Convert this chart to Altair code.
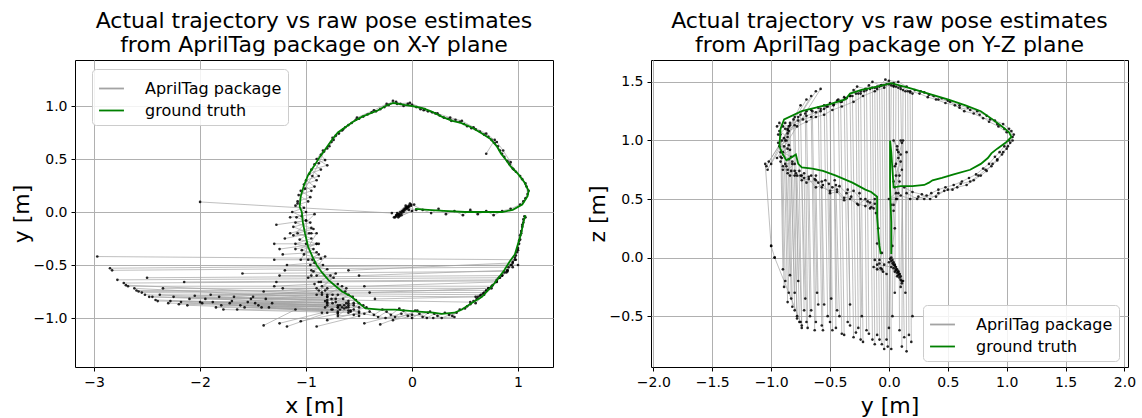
import altair as alt
import pandas as pd

FONT = "DejaVu Sans"
GRAY = "#a3a3a3"
GREEN = "#008000"

# ---------------- X-Y plane ----------------
xy_truth = [(0.03,0.03),(0.15,0.02),(0.3,0.01),(0.5,0.0),(0.7,0.0),(0.85,0.0),(0.95,0.02),(1.04,0.07),(1.09,0.15),
            (1.1,0.2),(1.06,0.28),(1.0,0.36),(0.93,0.43),(0.88,0.5),(0.84,0.55),(0.8,0.62),(0.74,0.69),(0.66,0.74),
            (0.56,0.8),(0.46,0.84),(0.38,0.86),(0.28,0.9),(0.18,0.95),(0.1,0.98),(0.0,1.0),(-0.07,1.01),(-0.18,1.03),
            (-0.25,1.0),(-0.32,0.96),(-0.47,0.9),(-0.56,0.85),(-0.63,0.8),(-0.7,0.75),(-0.74,0.7),(-0.77,0.66),
            (-0.82,0.59),(-0.87,0.52),(-0.92,0.44),(-0.98,0.35),(-1.02,0.25),(-1.05,0.15),(-1.06,0.05),(-1.04,0.0),
            (-1.03,-0.1),(-1.01,-0.2),(-0.98,-0.33),(-0.94,-0.42),(-0.9,-0.5),(-0.85,-0.57),(-0.79,-0.64),(-0.72,-0.7),
            (-0.66,-0.75),(-0.57,-0.8),(-0.5,-0.86),(-0.44,-0.91),(-0.3,-0.92),(-0.16,-0.92),(0.06,-0.94),(0.2,-0.95),
            (0.28,-0.96),(0.4,-0.95),(0.47,-0.92),(0.56,-0.86),(0.66,-0.8),(0.78,-0.67),(0.87,-0.55),(0.92,-0.47),
            (0.97,-0.4),(1.0,-0.3),(1.03,-0.2),(1.05,-0.1),(1.07,-0.03)]

xy_est = [(-0.15,-0.04),(-0.05,0.03),(-0.12,-0.02),(0.02,0.07),(-0.08,0.0),(-0.03,0.05),(-0.1,-0.03),(0.04,0.02),
          (-0.06,0.04),(0.0,0.01),(-0.13,-0.05),(-0.02,0.08),
          (0.1,0.02),(0.18,-0.01),(0.25,0.03),(0.32,-0.02),(0.4,0.01),(0.48,-0.03),(0.55,0.02),(0.62,-0.02),
          (0.7,0.01),(0.77,-0.03),(0.85,0.01),(0.93,0.03),
          (1.02,0.07),(1.07,0.13),(1.1,0.2),(1.07,0.27),(1.02,0.34),(0.95,0.41),(0.9,0.48),(0.85,0.55),(0.81,0.62),
          (0.75,0.68),(0.68,0.73),(0.6,0.78),(0.52,0.81),(0.45,0.85),(0.37,0.86),(0.3,0.89),(0.22,0.93),(0.15,0.95),
          (0.08,0.97),(0.0,1.01),(-0.08,1.0),(-0.15,1.04),(-0.22,1.01),(-0.3,0.97),(-0.38,0.94),(-0.46,0.9),
          (-0.53,0.87),(-0.6,0.82),(-0.66,0.77),(-0.72,0.72),(-0.76,0.66),(-0.8,0.6),
          (-0.86,0.54),(-0.82,0.49),(-0.92,0.45),(-0.86,0.4),(-0.97,0.36),(-0.9,0.3),(-1.02,0.26),(-0.95,0.2),
          (-1.07,0.16),(-0.98,0.1),(-1.1,0.06),(-1.0,0.0),(-1.09,-0.05),(-0.96,-0.1),(-1.12,-0.14),(-0.97,-0.2),
          (-1.06,-0.26),(-0.9,-0.3),(-1.04,-0.36),(-0.88,-0.4),(-0.98,-0.45),(-0.84,-0.5),(-0.93,-0.56),(-0.77,-0.6),
          (-0.88,-0.66),(-0.7,-0.68),(-0.82,-0.74),(-0.63,-0.75),(-0.76,-0.82),(-0.56,-0.8),(-0.68,-0.88),
          (-0.5,-0.86),(-0.58,-0.94),(-0.43,-0.9),(-0.36,-0.97),(-0.28,-0.92),(-0.2,-0.97),(-0.12,-0.91),
          (-0.04,-0.98),(0.03,-0.93),(0.1,-0.99),(0.17,-0.94),(0.24,-0.98),(0.31,-0.95),(0.38,-0.98),(0.45,-0.92),
          (0.52,-0.89),(0.58,-0.84),(0.64,-0.79),(0.7,-0.74),(0.76,-0.69),(0.82,-0.62),(0.87,-0.57),(0.91,-0.52),
          (0.95,-0.47),(0.98,-0.41),(1.0,-0.34),(1.02,-0.26),(1.03,-0.18),(1.05,-0.1),(1.06,-0.04)]

# further estimate runs (each inner list is one continuous run)
xy_runs = [
    [(-0.14,-0.03),(-0.1,-0.01),(-0.07,0.02),(-0.04,0.04),(-0.01,0.06),(-0.12,-0.04),(-0.09,0.01),
     (-0.05,0.05),(-0.16,-0.05),(-0.03,0.02)],
    [(-0.17,-0.05),(-0.15,-0.03),(-0.13,-0.02),(-0.11,0.0),(-0.09,0.01),(-0.07,0.03),(-0.05,0.04),
     (-0.03,0.06),(-0.01,0.07),(-0.12,-0.03),(-0.08,0.02),(-0.04,0.05),(-0.14,-0.01),(-0.06,0.06)],
    [(-0.84,0.58),(-0.9,0.5),(-0.8,0.44),(-0.95,0.4),(-0.88,0.34),(-1.0,0.3),(-0.92,0.24),(-1.05,0.2),
     (-0.96,0.14),(-1.08,0.1),(-1.02,0.04),(-1.13,0.0),(-1.04,-0.04),(-1.0,-0.08),(-1.1,-0.1),(-0.93,-0.16),
     (-1.08,-0.2),(-0.95,-0.25),(-1.1,-0.3),(-0.93,-0.35),(-1.02,-0.4),(-0.86,-0.44),(-0.96,-0.5),
     (-0.8,-0.54),(-0.9,-0.6),(-0.74,-0.62),(-0.85,-0.7),(-0.66,-0.7),(-0.8,-0.78),(-0.6,-0.78),(-0.72,-0.85),
     (-0.53,-0.83),(-0.64,-0.91),(-0.46,-0.88),(-0.55,-0.97),(-0.4,-0.94),(-0.32,-0.99),(-0.24,-0.94),
     (-0.16,-0.99),(-0.08,-0.93),(0.0,-1.0),(0.07,-0.96),(0.14,-1.0),(0.21,-0.96),(0.28,-1.0),(0.35,-0.97),
     (0.42,-0.95),(0.5,-0.91),(0.55,-0.87),(0.61,-0.82),(0.67,-0.77),(0.73,-0.72),(0.79,-0.66),(0.85,-0.6),
     (0.9,-0.55),(0.94,-0.5),(0.97,-0.45),(0.99,-0.38),(1.01,-0.3),(1.02,-0.22),(1.04,-0.14),(1.05,-0.07)],
    [(1.05,0.1),(1.09,0.17),(1.08,0.24),(1.04,0.31),(0.98,0.38),(0.92,0.45),(0.87,0.52),(0.83,0.58),
     (0.78,0.65),(0.72,0.71),(0.64,0.76),(0.56,0.79),(0.49,0.83),(0.41,0.87),(0.34,0.88),(0.26,0.91),
     (0.19,0.94),(0.11,0.96),(0.04,0.99),(-0.04,1.02),(-0.11,1.02),(-0.18,1.05),(-0.26,0.99),(-0.34,0.95),
     (-0.42,0.92),(-0.5,0.88),(-0.57,0.84),(-0.63,0.8),(-0.69,0.74),(-0.74,0.68),(-0.78,0.62)],
    [(-1.15,-0.05),(-0.92,-0.02),(-1.12,-0.22),(-0.9,-0.2),(-1.05,-0.45),(-0.82,-0.42),(-0.98,-0.62),
     (-0.72,-0.58),(-0.9,-0.78),(-0.62,-0.72),(-0.82,-0.9),(-0.55,-0.86),(-0.7,-0.98),(-0.45,-0.96),
     (-0.25,-1.0),(0.0,-0.97),(0.2,-1.0),(0.4,-0.99)],
    [(0.96,0.4),(0.93,0.47),(0.86,0.58),(0.8,0.66),(0.7,0.74),(0.58,0.8),(0.47,0.86),(0.36,0.89),(0.24,0.93),
     (0.12,0.97),(-0.02,1.03),(-0.14,1.02),(-0.24,1.02),(-0.36,0.96),(-0.52,0.89),(-0.65,0.78),(-0.75,0.7),
     (-0.83,0.57),(-0.88,0.46),(-0.94,0.34),(-1.01,0.22),(-1.08,0.08)],
    [(0.6,-0.86),(0.68,-0.78),(0.75,-0.72),(0.83,-0.62),(0.89,-0.57),(0.93,-0.5),(0.97,-0.43),(1.0,-0.36),
     (1.01,-0.27),(1.03,-0.2),(1.04,-0.12),(1.07,-0.05)],
]

# outlier jumps (x1, y1, x2, y2)
xy_jumps = [(-2.97,-0.42,0.98,-0.45),(-2.85,-0.53,1.0,-0.5),(-2.83,-0.55,0.95,-0.52),(-2.5,-0.62,0.85,-0.6),
            (-2.72,-0.67,0.8,-0.65),(-2.15,-0.66,0.8,-0.64),(-2.68,-0.7,0.75,-0.7),(-2.35,-0.72,0.72,-0.72),
            (-2.6,-0.74,0.7,-0.74),(-2.55,-0.76,0.65,-0.78),(-2.45,-0.8,0.55,-0.85),(-1.6,-0.58,0.9,-0.56),
            (-2.4,-0.84,-0.6,-0.86),(-2.3,-0.86,-0.7,-0.88),(-2.2,-0.87,-0.5,-0.9),(-2.1,-0.82,-0.8,-0.8),
            (-2.0,-0.85,-0.6,-0.88),(-1.9,-0.78,-0.75,-0.78),(-1.85,-0.9,-0.55,-0.92),(-1.8,-0.88,-0.7,-0.9),
            (-1.7,-0.84,-0.8,-0.85),(-1.65,-0.92,-0.6,-0.93),(-1.55,-0.85,-0.8,-0.86),(-1.5,-0.8,-0.85,-0.78),
            (-1.45,-0.88,-0.7,-0.9),(-1.4,-0.75,-0.9,-0.72),(-1.35,-0.9,-0.75,-0.92),(-1.3,-0.7,-0.92,-0.68),
            (-1.25,-0.6,-0.95,-0.6),(-1.2,-0.55,-0.95,-0.55),(-1.25,-0.35,-0.9,-0.3),(-1.2,-0.25,-0.95,-0.2),
            (-1.28,-0.12,-1.0,-0.08),(-1.3,-0.3,-1.0,-0.3),(-2.0,0.095,-0.19,-0.01),(-1.4,-1.07,-1.1,-0.92),
            (-1.25,-1.05,-0.85,-0.95),(-1.18,-1.08,-0.8,-0.95),(-0.3,-1.06,0.05,-0.93),(-0.8,-1.02,-0.5,-0.95),
            (0.7,0.55,0.78,0.68),
            (-2.78,-0.64,0.82,-0.62),(-2.7,-0.69,-0.7,-0.78),(-2.62,-0.72,-0.65,-0.82),(-2.58,-0.75,0.68,-0.76),
            (-2.52,-0.78,-0.6,-0.84),(-2.48,-0.8,-0.75,-0.86),(-2.42,-0.83,-0.55,-0.88),(-2.38,-0.78,0.6,-0.8),
            (-2.28,-0.84,-0.62,-0.9),(-2.25,-0.8,-0.8,-0.83),(-2.18,-0.85,-0.68,-0.92),(-2.12,-0.88,-0.58,-0.93),
            (-2.05,-0.79,-0.85,-0.76),(-1.98,-0.86,-0.7,-0.94),(-1.95,-0.82,-0.62,-0.86),(-1.88,-0.85,-0.8,-0.88),
            (-1.82,-0.8,-0.72,-0.82),(-1.78,-0.92,-0.6,-0.95),(-1.72,-0.86,-0.66,-0.9),(-1.68,-0.8,-0.88,-0.74),
            (-1.62,-0.88,-0.76,-0.92),(-1.58,-0.9,-0.5,-0.94),(-1.52,-0.82,-0.82,-0.84),(-1.48,-0.86,-0.64,-0.88),
            (-1.42,-0.9,-0.7,-0.95),(-1.38,-0.82,-0.8,-0.8),(-1.32,-0.86,-0.6,-0.9),(-1.28,-0.66,-0.86,-0.66),
            (-1.22,-0.72,-0.8,-0.72),(-1.3,-0.45,-0.94,-0.45),(-1.18,-0.5,-0.92,-0.48),(-1.22,-0.4,-0.9,-0.38),
            (-1.15,-0.2,-0.95,-0.15),(-1.1,-0.35,-0.88,-0.3),(-0.6,-0.55,0.95,-0.48),(-0.5,-0.6,0.9,-0.55),
            (-0.45,-0.7,0.8,-0.66),(-0.4,-0.76,0.72,-0.72),(-0.35,-0.82,0.62,-0.8),(-1.05,-1.03,-0.7,-0.96),
            (-0.9,-1.08,-0.5,-0.98),(-0.45,-1.05,-0.1,-0.96),(-0.18,-1.02,0.15,-0.95)]

# ---------------- Y-Z plane ----------------
yz_truth = [(0.02,0.03),(0.02,0.3),(0.01,0.6),(0.01,0.85),(0.01,1.0),(0.02,0.9),(0.03,0.75),(0.04,0.6),(0.1,0.61),
            (0.2,0.61),(0.3,0.62),(0.34,0.64),(0.37,0.66),(0.45,0.68),(0.55,0.71),(0.69,0.75),(0.78,0.8),(0.84,0.85),
            (0.87,0.89),(0.92,0.93),(0.99,0.98),(1.04,1.03),(1.02,1.07),(0.96,1.12),(0.88,1.18),(0.78,1.25),
            (0.65,1.3),(0.5,1.35),(0.37,1.39),(0.2,1.44),(0.02,1.49),(-0.1,1.46),(-0.24,1.43),(-0.33,1.4),
            (-0.37,1.35),(-0.5,1.31),(-0.62,1.28),(-0.74,1.25),(-0.89,1.18),(-0.92,1.1),(-0.93,0.95),(-0.9,0.88),
            (-0.87,0.83),(-0.82,0.86),(-0.79,0.88),(-0.77,0.8),(-0.74,0.77),(-0.65,0.76),(-0.56,0.74),(-0.45,0.7),
            (-0.31,0.64),(-0.2,0.58),(-0.15,0.56),(-0.1,0.52),(-0.1,0.35),(-0.09,0.21),(-0.08,0.1),(-0.07,0.03)]

yz_est = [(0.03,-0.02),(0.06,-0.08),(0.04,-0.04),(0.08,-0.12),(0.05,-0.06),(0.1,-0.16),(0.07,-0.1),(0.12,-0.2),
          (0.02,0.0),(0.03,0.1),(0.05,0.25),(0.04,0.4),(0.07,0.5),(0.05,0.6),(0.09,0.7),(0.06,0.8),(0.1,0.88),
          (0.07,0.95),(0.04,1.0),(0.08,0.9),(0.05,0.78),(0.09,0.65),(0.06,0.55),(0.0,0.5),
          (0.1,0.53),(0.18,0.5),(0.25,0.52),(0.3,0.5),(0.36,0.55),(0.42,0.58),(0.48,0.6),(0.55,0.62),(0.62,0.65),
          (0.68,0.68),(0.74,0.71),(0.8,0.76),(0.85,0.8),(0.9,0.86),(0.94,0.9),(0.98,0.95),(1.02,1.0),(1.05,1.03),
          (1.02,1.1),(0.97,1.14),(0.9,1.17),(0.83,1.21),(0.75,1.25),(0.67,1.28),(0.6,1.3),(0.52,1.33),(0.45,1.36),
          (0.38,1.38),(0.3,1.41),(0.22,1.43),(0.15,1.46),(0.08,1.5),(0.0,1.51),(-0.07,1.47),(-0.14,1.5),
          (-0.2,1.44),(-0.27,1.46),(-0.33,1.38),(-0.4,1.33),(-0.47,1.3),(-0.55,1.27),(-0.62,1.24),(-0.7,1.21),
          (-0.77,1.17),(-0.84,1.13),
          (-0.9,1.12),(-0.86,1.06),(-0.91,1.0),(-0.85,0.96),(-0.9,0.9),(-0.83,0.86),(-0.88,0.8),(-0.8,0.8),
          (-0.86,0.75),(-0.76,0.74),(-0.8,0.7),
          (-0.72,0.68),(-0.66,0.7),(-0.6,0.64),(-0.54,0.66),(-0.48,0.6),(-0.42,0.61),(-0.36,0.55),(-0.3,0.57),
          (-0.24,0.5),(-0.18,0.48),(-0.15,0.43),(-0.12,0.5),
          (-0.11,0.38),(-0.09,0.25),(-0.1,0.12),(-0.06,0.04),(-0.08,-0.02),(-0.04,-0.06),(-0.06,-0.1)]

yz_runs = [
    [(-0.93,1.15),(-0.88,1.1),(-0.94,1.05),(-0.87,1.0),(-0.93,0.95),(-0.84,0.92),(-0.92,0.86),(-0.82,0.82),
     (-0.9,0.78),(-0.84,0.7),(-0.75,0.7),(-0.7,0.64),(-0.62,0.66),(-0.57,0.6),(-0.5,0.57),(-0.44,0.58),
     (-0.38,0.51),(-0.32,0.52),(-0.27,0.46),(-0.2,0.44),(-0.16,0.47),(-0.13,0.42)],
    [(0.02,0.45),(0.06,0.5),(0.04,0.65),(0.11,0.75),(0.08,0.85),(0.11,0.98)],
    [(0.13,0.6),(0.2,0.56),(0.28,0.54),(0.35,0.5),(0.42,0.55),(0.5,0.58),(0.58,0.6),(0.66,0.62),(0.72,0.66),
     (0.78,0.7),(0.83,0.74),(0.88,0.8),(0.92,0.84),(0.96,0.88),(1.0,0.93),(1.03,0.98),(1.06,1.05),(1.04,1.08),
     (0.98,1.1),(0.92,1.14),(0.86,1.18),(0.8,1.19),(0.72,1.23),(0.64,1.25),(0.56,1.3),(0.48,1.32),(0.4,1.35),
     (0.33,1.37),(0.26,1.4),(0.18,1.42),(0.1,1.46),(0.04,1.46),(-0.03,1.52),(-0.1,1.44),(-0.17,1.47),
     (-0.24,1.4),(-0.3,1.43),(-0.37,1.36),(-0.44,1.34),(-0.52,1.29),(-0.58,1.25),(-0.66,1.2),(-0.73,1.18),
     (-0.8,1.13),(-0.86,1.09),(-0.89,1.02)],
    [(0.0,-0.04),(0.09,-0.14),(0.05,-0.12),(0.11,-0.22),(0.02,-0.08),(-0.1,-0.06),(-0.02,-0.14)],
    [(0.01,-0.01),(0.03,-0.05),(0.05,-0.07),(0.04,-0.09),(0.06,-0.11),(0.07,-0.13),(0.08,-0.15),(0.09,-0.17),
     (0.1,-0.19),(0.11,-0.2),(0.06,-0.1),(0.04,-0.06),(0.08,-0.12),(0.02,-0.03),(0.09,-0.14),(0.07,-0.16)],
    [(-0.12,-0.02),(-0.08,-0.05),(-0.1,-0.1),(-0.05,-0.12),(-0.13,-0.08),(-0.07,-0.09)],
    [(-0.92,0.82),(-0.86,0.72),(-0.8,0.74),(-0.74,0.66),(-0.68,0.67),(-0.62,0.6),(-0.56,0.62),(-0.5,0.55),
     (-0.44,0.56),(-0.38,0.49),(-0.33,0.5),(-0.26,0.45),(-0.2,0.5),(-0.16,0.42),(-0.12,0.46)],
    [(-0.95,1.12),(-0.88,1.15),(-0.93,1.08),(-0.86,1.03),(-0.94,0.98),(-0.86,0.93),(-0.92,0.9),(-0.85,0.84)],
    [(0.15,0.55),(0.24,0.5),(0.32,0.53),(0.4,0.52),(0.47,0.57),(0.54,0.58),(0.61,0.63),(0.69,0.65),(0.76,0.7),
     (0.82,0.75),(0.87,0.78),(0.92,0.83),(0.97,0.9),(1.01,0.95),(1.05,1.0)],
    [(1.0,1.07),(0.93,1.12),(0.85,1.16),(0.77,1.22),(0.69,1.26),(0.6,1.28),(0.5,1.34),(0.42,1.35),(0.34,1.39),
     (0.27,1.42)],
    [(-0.85,1.08),(-0.78,1.12),(-0.7,1.16),(-0.62,1.2),(-0.55,1.22),(-0.48,1.26),(-0.4,1.29),(-0.3,1.33),
     (-0.22,1.38),(-0.12,1.42),(-0.04,1.45),(0.04,1.49)],
    [(0.04,0.45),(0.08,0.55),(0.06,0.7),(0.1,0.82),(0.07,0.92),(0.1,1.0)],
]

yz_jumps = [(-0.9,0.75,-0.88,-0.2),(-0.88,1.0,-0.85,-0.3),(-0.86,1.1,-0.83,-0.35),(-0.84,1.15,-0.8,-0.45),
            (-0.82,0.8,-0.78,-0.5),(-0.8,1.2,-0.76,-0.55),(-0.78,0.7,-0.74,-0.6),(-0.75,1.22,-0.72,-0.45),
            (-0.72,0.72,-0.7,-0.55),(-0.7,1.25,-0.67,-0.5),(-0.66,1.26,-0.63,-0.62),(-0.62,0.7,-0.6,-0.4),
            (-0.6,1.28,-0.57,-0.58),(-0.55,1.3,-0.52,-0.5),(-0.5,1.32,-0.48,-0.62),(-0.46,0.66,-0.44,-0.45),
            (-0.43,1.35,-0.4,-0.65),(-0.38,1.37,-0.35,-0.55),(-0.33,1.38,-0.3,-0.68),(-0.28,1.4,-0.26,-0.6),
            (-0.24,1.42,-0.22,-0.72),(-0.19,1.43,-0.17,-0.65),(-0.14,1.45,-0.12,-0.74),(-0.1,1.46,-0.08,-0.7),
            (-0.06,1.47,-0.04,-0.78),(-0.02,1.48,-0.01,-0.76),(0.02,1.47,0.0,-0.6),(0.06,1.46,0.05,-0.3),
            (0.1,1.44,0.13,-0.68),(0.14,1.42,0.15,-0.8),(0.18,1.41,0.19,-0.72),
            (-1.05,0.8,-1.0,0.1),(-1.0,0.1,-0.97,0.0),(-0.97,0.0,-0.75,-0.55),(-0.62,1.42,-1.02,0.82),
            (-0.7,1.35,-1.04,0.78),
            (-0.92,1.05,-0.9,-0.1),(-0.91,0.85,-0.89,-0.25),(-0.89,0.95,-0.86,-0.38),(-0.87,0.78,-0.84,-0.15),
            (-0.85,1.12,-0.82,-0.42),(-0.83,0.74,-0.8,-0.3),(-0.81,1.18,-0.78,-0.52),(-0.79,0.72,-0.77,-0.2),
            (-0.77,1.2,-0.74,-0.58),(-0.74,0.7,-0.71,-0.35),(-0.71,1.23,-0.69,-0.6),(-0.68,0.69,-0.66,-0.45),
            (-0.65,1.25,-0.62,-0.55),(-0.63,0.67,-0.61,-0.3),(-0.58,1.27,-0.56,-0.62),(-0.57,0.65,-0.55,-0.4),
            (-0.53,1.29,-0.5,-0.55),(-0.51,0.63,-0.49,-0.35),(-0.47,1.31,-0.45,-0.6),(-0.45,0.62,-0.42,-0.5),
            (-0.41,1.33,-0.38,-0.66),(-0.36,1.36,-0.33,-0.58),(-0.35,0.58,-0.33,-0.4),(-0.31,1.38,-0.28,-0.64),
            (-0.26,1.4,-0.24,-0.7),(-0.25,0.55,-0.23,-0.5),(-0.21,1.42,-0.19,-0.62),(-0.16,1.44,-0.14,-0.7),
            (-0.12,1.45,-0.1,-0.66),(-0.08,1.46,-0.06,-0.74),(-0.04,1.47,-0.02,-0.7),(0.0,1.48,0.02,-0.78),
            (0.04,1.47,0.03,-0.5),(0.08,1.45,0.09,-0.62),(0.12,1.43,0.11,-0.76),(0.16,1.42,0.17,-0.66),
            (0.2,1.4,0.2,-0.5),(0.12,1.0,0.1,-0.25),(0.15,0.9,0.14,-0.3),
            (-0.58,1.44,-0.95,0.85),(-0.66,1.38,-1.0,0.8),(-0.75,1.3,-1.03,0.75)]

SERIES = ["AprilTag package", "ground truth"]


def panel(truth, est, runs, jumps, xdom, ydom, xticks, yticks, xfmt, yfmt, xtitle, ytitle, title,
          leg_x, leg_y, w, h):
    t = pd.DataFrame(truth, columns=["a", "b"])
    t["i"] = range(len(t))
    t["s"] = SERIES[1]
    e = pd.DataFrame(est, columns=["a", "b"])
    e["i"] = range(len(e))
    e["s"] = SERIES[0]
    r = pd.DataFrame([(g, k, p[0], p[1]) for g, run in enumerate(runs) for k, p in enumerate(run)],
                     columns=["g", "i", "a", "b"])
    j = pd.DataFrame(jumps, columns=["a", "b", "a2", "b2"])
    pts = pd.concat([e[["a", "b"]], r[["a", "b"]], j[["a", "b"]],
                     j[["a2", "b2"]].rename(columns={"a2": "a", "b2": "b"})], ignore_index=True)

    X = alt.X("a:Q", scale=alt.Scale(domain=xdom, nice=False, zero=False),
              axis=alt.Axis(values=xticks, format=xfmt, title=xtitle))
    Y = alt.Y("b:Q", scale=alt.Scale(domain=ydom, nice=False, zero=False),
              axis=alt.Axis(values=yticks, format=yfmt, title=ytitle))
    color = alt.Color("s:N", scale=alt.Scale(domain=SERIES, range=[GRAY, GREEN]),
                      legend=alt.Legend(title=None, orient="none", legendX=leg_x, legendY=leg_y,
                                        fillColor="rgba(255,255,255,0.85)", strokeColor="#cccccc",
                                        cornerRadius=4, padding=6, labelFontSize=16, labelFont=FONT,
                                        labelColor="black", symbolType="stroke", symbolStrokeWidth=1.8,
                                        symbolSize=620, rowPadding=0, labelOffset=20))

    est_line = alt.Chart(e).mark_line(strokeWidth=0.7, clip=True).encode(x=X, y=Y, order="i:Q", color=color)
    run_lines = alt.Chart(r).mark_line(strokeWidth=0.7, color=GRAY, clip=True).encode(
        x="a:Q", y="b:Q", order="i:Q", detail="g:N")
    jump_lines = alt.Chart(j).mark_rule(strokeWidth=0.7, color=GRAY, clip=True).encode(
        x="a:Q", y="b:Q", x2="a2:Q", y2="b2:Q")
    dots = alt.Chart(pts).mark_circle(size=7, color="black", opacity=0.85, clip=True).encode(x="a:Q", y="b:Q")
    truth_line = alt.Chart(t).mark_line(strokeWidth=1.8, clip=True).encode(x="a:Q", y="b:Q", order="i:Q", color=color)

    return alt.layer(est_line, run_lines, jump_lines, dots, truth_line).properties(
        width=w, height=h,
        title=alt.TitleParams(text=title, fontSize=22, font=FONT, fontWeight="normal",
                              lineHeight=24, anchor="middle", offset=3, color="black"))


left = panel(xy_truth, xy_est, xy_runs, xy_jumps, [-3.18, 1.33], [-1.462, 1.434],
             [-3, -2, -1, 0, 1], [-1.0, -0.5, 0.0, 0.5, 1.0], "d", ".1f", "x [m]", "y [m]",
             ["Actual trajectory vs raw pose estimates", "from AprilTag package on X-Y plane"],
             17, 9, 478, 307)
right = panel(yz_truth, yz_est, yz_runs, yz_jumps, [-2.02, 2.03], [-0.934, 1.687],
              [-2.0, -1.5, -1.0, -0.5, 0.0, 0.5, 1.0, 1.5, 2.0], [-0.5, 0.0, 0.5, 1.0, 1.5], ".1f", ".1f",
              "y [m]", "z [m]",
              ["Actual trajectory vs raw pose estimates", "from AprilTag package on Y-Z plane"],
              272, 245, 477, 307)

chart = alt.hconcat(left, right, spacing=31).resolve_scale(color="independent").resolve_legend(
    color="independent").properties(
    padding={"left": 9, "top": 9, "right": 5, "bottom": 2}).configure(
    font=FONT, background="white").configure_axis(
    labelFont=FONT, titleFont=FONT, labelFontSize=14, titleFontSize=22, titleFontWeight="normal",
    labelColor="black", titleColor="black", gridColor="#b0b0b0", gridWidth=1, tickColor="black",
    tickSize=4, labelPadding=4, domain=False).configure_axisX(titlePadding=6).configure_axisY(
    titlePadding=0).configure_view(stroke="black", strokeWidth=1)

chart.save("out.html", embed_options={"renderer": "svg", "actions": False})
